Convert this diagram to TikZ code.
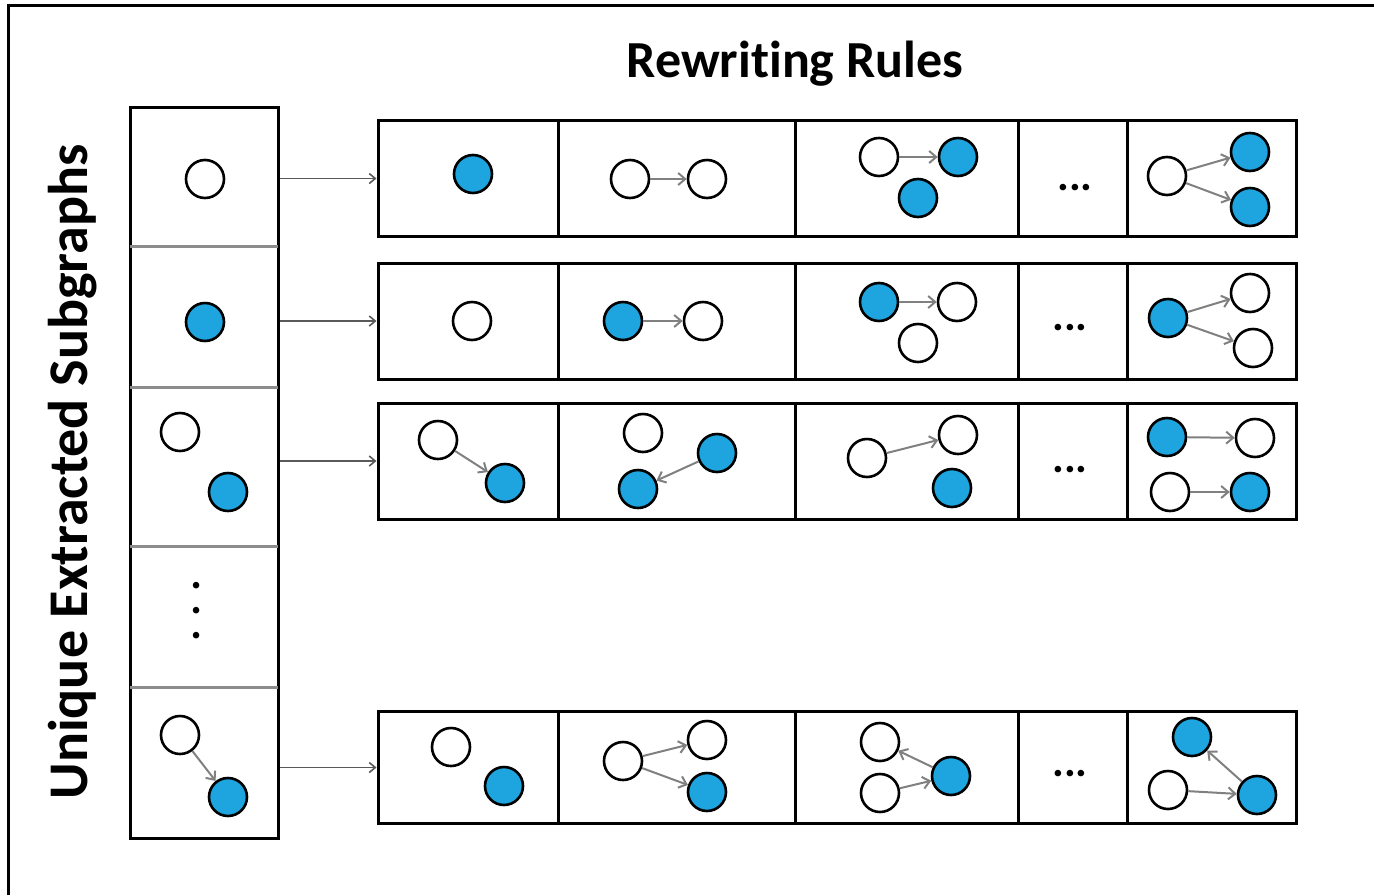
\documentclass[tikz,border=0pt]{standalone}
\usepackage{fontspec}
\setmainfont{Carlito}[Ligatures=NoCommon]
\usetikzlibrary{arrows.meta,positioning}
\definecolor{NodeBlue}{HTML}{1EA5E0}
\definecolor{EdgeGray}{HTML}{808080}
\definecolor{SepGray}{HTML}{8C8C8C}

\begin{document}
\begin{tikzpicture}[x=1pt,y=-1pt,
    wnode/.style={circle,draw=black,line width=2.6pt,fill=white,minimum size=38pt,inner sep=0pt},
    bnode/.style={wnode,fill=NodeBlue},
    edge/.style={draw=EdgeGray,line width=2pt,-{Straight Barb[length=7pt,width=12pt]}},
    feed/.style={draw=black!65,line width=1.6pt,-{Straight Barb[length=6pt,width=10pt]}},
    rulebox/.style={draw=black,line width=3pt,minimum width=918pt,minimum height=116pt,inner sep=0pt},
    cellrule/.style={draw=black,line width=3pt},
    sepline/.style={draw=SepGray,line width=3pt},
    dots/.style={font=\fontsize{44}{44}\selectfont\bfseries,inner sep=0pt},
    heading/.style={font=\fontsize{52}{60}\selectfont\bfseries}]
      \useasboundingbox (0,0) rectangle (1374,895);
      \draw[line width=3pt] (8,895) -- (8,5) -- (1374,5);

      \node[heading] (title) at (795,64) {Rewriting Rules};
      \node[heading,font=\fontsize{56}{60}\selectfont\bfseries,rotate=90] (side) at (73,472) {Unique Extracted Subgraphs};

      % extracted subgraphs
      \node[draw=black,line width=3pt,minimum width=148pt,minimum height=731pt,inner sep=0pt] (lcol) at (204,472.5) {};
      \foreach \y in {246,387,546,687}
        \draw[sepline,shorten <=1.5pt,shorten >=1.5pt] (lcol.west |- 0,\y) -- (lcol.east |- 0,\y);
      \node[wnode] (s1) at (205,179) {};
      \node[bnode] (s2) at (205,322) {};
      \node[wnode] (s3a) at (180,432) {};
      \node[bnode] (s3b) at (228,492) {};
      \node[dots,rotate=90] (s4) at (197,611) {. . .};
      \node[wnode] (s5a) at (180,735) {};
      \node[bnode] (s5b) at (228,797) {};
      \draw[edge] (s5a) -- (s5b);

      % rule rows
      \node[rulebox] (rule1) at (837,178.5) {};
      \node[rulebox] (rule2) at (837,321) {};
      \node[rulebox] (rule3) at (837,461) {};
      \node[rulebox,minimum height=112pt] (rule4) at (837,767.5) {};
      \foreach \r in {rule1,rule2,rule3,rule4}
        \foreach \x in {558,795,1018,1127}
          \draw[cellrule] (\r.north -| \x,0) -- (\r.south -| \x,0);

      \draw[feed] (rule1.west -| lcol.east) -- (rule1.west);
      \draw[feed] (rule2.west -| lcol.east) -- (rule2.west);
      \draw[feed] (rule3.west -| lcol.east) -- (rule3.west);
      \draw[feed] (rule4.west -| lcol.east) -- (rule4.west);

      % row 1
      \node[bnode] (a1) at (473,174) {};
      \node[wnode] (a2a) at (630,179) {};
      \node[wnode] (a2b) at (707,179) {};
      \node[wnode] (a3a) at (879,157) {};
      \node[bnode] (a3b) at (958,157) {};
      \node[bnode] (a3c) at (918,198) {};
      \node[dots] (a4) at (1075,188) {...};
      \node[wnode] (a5a) at (1167,176) {};
      \node[bnode] (a5b) at (1250,152) {};
      \node[bnode] (a5c) at (1250,207) {};
      \draw[edge] (a2a) -- (a2b);
      \draw[edge] (a3a) -- (a3b);
      \draw[edge] (a5a) -- (a5b);
      \draw[edge] (a5a) -- (a5c);

      % row 2
      \node[wnode] (b1) at (472,321) {};
      \node[bnode] (b2a) at (623,321) {};
      \node[wnode] (b2b) at (703,321) {};
      \node[bnode] (b3a) at (879,302) {};
      \node[wnode] (b3b) at (957,302) {};
      \node[wnode] (b3c) at (918,343) {};
      \node[dots] (b4) at (1070,328) {...};
      \node[bnode] (b5a) at (1168,318) {};
      \node[wnode] (b5b) at (1250,293) {};
      \node[wnode] (b5c) at (1253,348) {};
      \draw[edge] (b2a) -- (b2b);
      \draw[edge] (b3a) -- (b3b);
      \draw[edge] (b5a) -- (b5b);
      \draw[edge] (b5a) -- (b5c);

      % row 3
      \node[wnode] (c1a) at (438,440) {};
      \node[bnode] (c1b) at (505,483) {};
      \node[wnode] (c2a) at (643,433) {};
      \node[bnode] (c2b) at (717,453) {};
      \node[bnode] (c2c) at (638,489) {};
      \node[wnode] (c3a) at (867,458) {};
      \node[wnode] (c3b) at (958,435) {};
      \node[bnode] (c3c) at (952,488) {};
      \node[dots] (c4) at (1070,470) {...};
      \node[bnode] (c5a) at (1167,437) {};
      \node[wnode] (c5b) at (1255,438) {};
      \node[wnode] (c5c) at (1170,492) {};
      \node[bnode] (c5d) at (1250,492) {};
      \draw[edge] (c1a) -- (c1b);
      \draw[edge] (c2b) -- (c2c);
      \draw[edge] (c3a) -- (c3b);
      \draw[edge] (c5a) -- (c5b);
      \draw[edge] (c5c) -- (c5d);

      % row 4
      \node[wnode] (d1a) at (451,747) {};
      \node[bnode] (d1b) at (504,786) {};
      \node[wnode] (d2a) at (623,761) {};
      \node[wnode] (d2b) at (707,740) {};
      \node[bnode] (d2c) at (707,792) {};
      \node[wnode] (d3a) at (880,742) {};
      \node[wnode] (d3b) at (880,793) {};
      \node[bnode] (d3c) at (951,776) {};
      \node[dots] (d4) at (1070,774) {...};
      \node[bnode] (d5a) at (1192,737) {};
      \node[wnode] (d5b) at (1168,790) {};
      \node[bnode] (d5c) at (1257,795) {};
      \draw[edge] (d2a) -- (d2b);
      \draw[edge] (d2a) -- (d2c);
      \draw[edge] (d3c) -- (d3a);
      \draw[edge] (d3b) -- (d3c);
      \draw[edge] (d5c) -- (d5a);
      \draw[edge] (d5b) -- (d5c);
    \end{tikzpicture}
\end{document}
